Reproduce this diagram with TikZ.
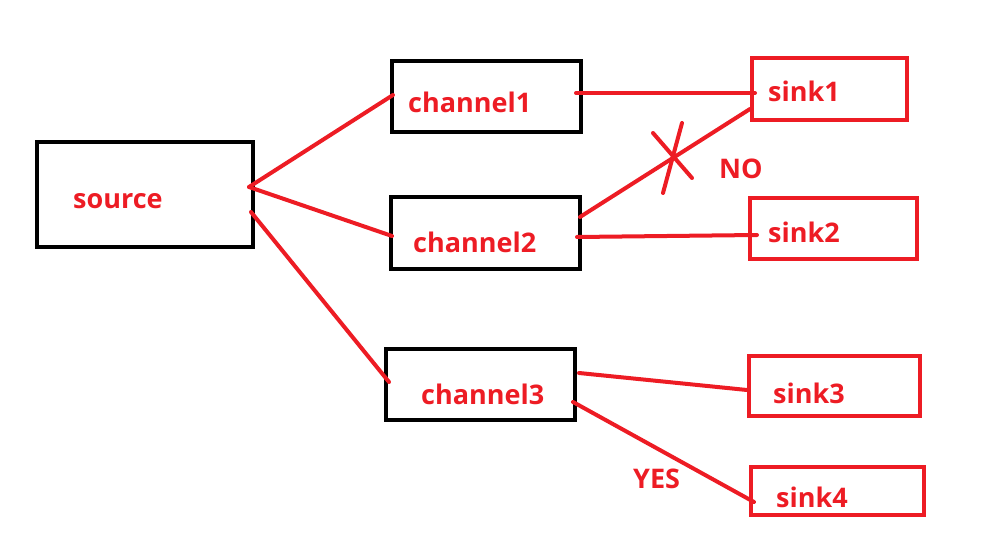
\documentclass[tikz,border=0pt]{standalone}
\usepackage{fontspec}
\setmainfont{Open Sans}
\usetikzlibrary{calc}
\definecolor{pred}{RGB}{237,28,36}
\tikzset{
  blackbox/.style={draw=black, line width=4.5pt, rectangle, inner sep=0pt, outer sep=0pt},
  redbox/.style={draw=pred, line width=4pt, rectangle, inner sep=0pt, outer sep=0pt},
  lbl/.style={text=pred, font=\fontsize{27}{31}\selectfont\bfseries, anchor=base west, inner sep=0pt},
  conn/.style={draw=pred, line width=4pt, line cap=round}
}
\begin{document}
\begin{tikzpicture}[x=1pt,y=-1pt]
\useasboundingbox (0,0) rectangle (1004,548);
% boxes
\node[blackbox, minimum width=216pt, minimum height=105pt] (source) at (145,194.5) {};
\node[blackbox, minimum width=189pt, minimum height=71pt] (ch1) at (486.5,96.5) {};
\node[blackbox, minimum width=189pt, minimum height=72pt] (ch2) at (485.5,233) {};
\node[blackbox, minimum width=189pt, minimum height=71pt] (ch3) at (480.5,384.5) {};
\node[redbox, minimum width=155pt, minimum height=62pt] (sink1) at (829.5,89) {};
\node[redbox, minimum width=167pt, minimum height=61pt] (sink2) at (833.5,228.5) {};
\node[redbox, minimum width=171pt, minimum height=60pt] (sink3) at (834.5,386) {};
\node[redbox, minimum width=173pt, minimum height=48pt] (sink4) at (837.5,491) {};
% labels
\node[lbl] (sourcet) at (73,209) {source};
\node[lbl] (ch1t) at (408,113) {channel1};
\node[lbl] (ch2t) at (413,253) {channel2};
\node[lbl] (ch3t) at (421,404) {channel3};
\node[lbl] (sink1t) at (768,102) {sink1};
\node[lbl] (sink2t) at (768,243) {sink2};
\node[lbl] (sink3t) at (773,403) {sink3};
\node[lbl] (sink4t) at (776,507) {sink4};
\node[lbl] (no) at (719,179) {NO};
\node[lbl] (yes) at (633,488) {YES};
% connectors
\draw[conn] ($(source.north west)+(212,45)$) -- ($(ch1.north west)+(1,34)$);
\draw[conn] ($(source.north west)+(212,45)$) -- ($(ch2.north west)+(1,39)$);
\draw[conn] ($(source.north west)+(214,70)$) -- ($(ch3.north west)+(3,33)$);
\draw[conn] ($(ch1.north west)+(184,32)$) -- ($(sink1.north west)+(3,35)$);
\draw[conn] ($(ch2.north west)+(189,20)$) -- ($(sink1.north west)+(-2,51)$);
\draw[conn] ($(ch2.north west)+(186,40)$) -- ($(sink2.north west)+(7,37)$);
\draw[conn] ($(ch3.north west)+(193,24)$) -- ($(sink3.north west)+(-2,34)$);
\draw[conn] ($(ch3.north west)+(187,53)$) -- ($(sink4.north west)+(3,35)$);
% cross mark
\coordinate (xa) at (653,133);
\coordinate (xb) at (692,178);
\coordinate (xc) at (682,123);
\coordinate (xd) at (663,193);
\draw[conn] (xa) -- (xb);
\draw[conn] (xc) -- (xd);
\end{tikzpicture}
\end{document}
